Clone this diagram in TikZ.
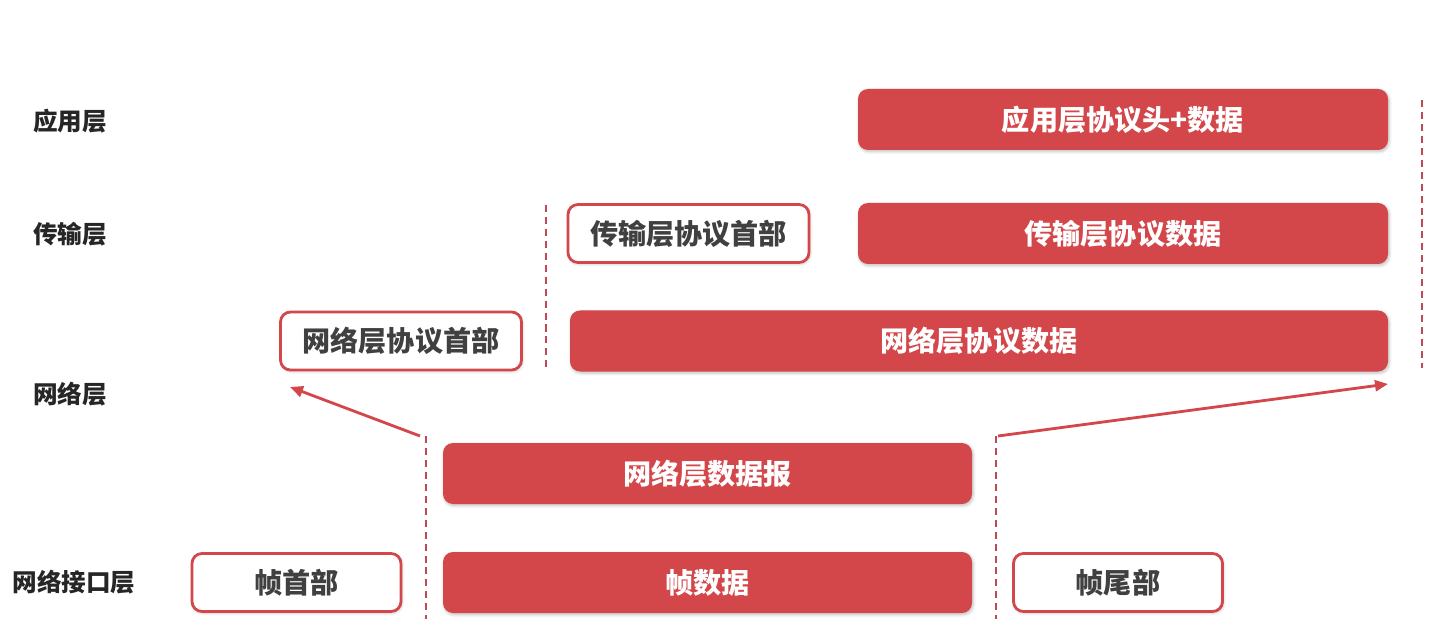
\documentclass[tikz,border=0pt]{standalone}
\usepackage{fontspec}
\newfontfamily\cjk{Noto Sans CJK SC}
\usepackage{tikz}
\usetikzlibrary{arrows.meta,shadows.blur}

\definecolor{boxred}{HTML}{D3474B}
\definecolor{cutred}{HTML}{BC4A53}
\definecolor{txtgray}{HTML}{404040}
\definecolor{lblblack}{HTML}{262626}

\begin{document}
\begin{tikzpicture}[every node/.style={align=center,font=\cjk\bfseries},
    datbox/.style={fill=boxred,text=white,rounded corners=0.2cm,font=\cjk\bfseries\fontsize{16}{18}\selectfont,
      minimum height=1.22cm,blur shadow={shadow xshift=0.6pt,shadow yshift=-0.9pt,shadow blur steps=6,shadow opacity=25}},
    hdrbox/.style={draw=boxred,line width=1.6pt,fill=white,text=txtgray,rounded corners=0.2cm,
      font=\cjk\bfseries\fontsize{16}{18}\selectfont,minimum height=1.16cm,
      blur shadow={shadow xshift=0.6pt,shadow yshift=-0.9pt,shadow blur steps=6,shadow opacity=20}},
    layer/.style={text=lblblack,font=\cjk\bfseries\fontsize{14}{16}\selectfont},
    cut/.style={draw=cutred,line width=1.2pt,dash pattern=on 4pt off 2.8pt},
    lift/.style={-{Triangle[length=2.6mm,width=2.2mm]},draw=boxred,line width=1.6pt}]
    \useasboundingbox (0,0) rectangle (28.82,12.38);
    % layer names
    \node[layer] (lapp) at (1.40,9.96) {应用层};
    \node[layer] (ltrans) at (1.40,7.70) {传输层};
    \node[layer] (lnet) at (1.40,4.50) {网络层};
    \node[layer] (llink) at (1.48,0.74) {网络接口层};
    % application layer
    \node[datbox,minimum width=10.6cm] (app) at (22.46,9.99) {应用层协议头+数据};
    % transport layer
    \node[hdrbox,minimum width=4.82cm] (thead) at (13.77,7.71) {传输层协议首部};
    \node[datbox,minimum width=10.6cm] (tdata) at (22.46,7.71) {传输层协议数据};
    % network layer
    \node[hdrbox,minimum width=4.82cm] (nhead) at (8.02,5.56) {网络层协议首部};
    \node[datbox,minimum width=16.36cm] (ndata) at (19.58,5.56) {网络层协议数据};
    \node[datbox,minimum width=10.58cm] (dgram) at (14.15,2.91) {网络层数据报};
    % network interface layer
    \node[hdrbox,minimum width=4.18cm] (fhead) at (5.93,0.73) {帧首部};
    \node[datbox,minimum width=10.58cm] (fdata) at (14.15,0.73) {帧数据};
    \node[hdrbox,minimum width=4.18cm] (ftail) at (22.36,0.73) {帧尾部};
    % cut lines
    \coordinate (c1t) at (10.92,8.28);  \coordinate (c1b) at (10.92,4.94);
    \coordinate (c2t) at (28.44,10.38); \coordinate (c2b) at (28.44,5.02);
    \coordinate (c3t) at (8.52,3.66);   \coordinate (c3b) at (8.52,0);
    \coordinate (c4t) at (19.92,3.66);  \coordinate (c4b) at (19.92,0);
    \draw[cut] (c1t) -- (c1b);
    \draw[cut] (c2t) -- (c2b);
    \draw[cut] (c3t) -- (c3b);
    \draw[cut] (c4t) -- (c4b);
    % arrows up to the network layer
    \coordinate (la) at (5.80,4.64);
    \coordinate (ra) at (27.76,4.70);
    \draw[lift] ([xshift=-0.12cm]c3t) -- (la);
    \draw[lift] ([xshift=0.04cm]c4t) -- (ra);
\end{tikzpicture}
\end{document}
